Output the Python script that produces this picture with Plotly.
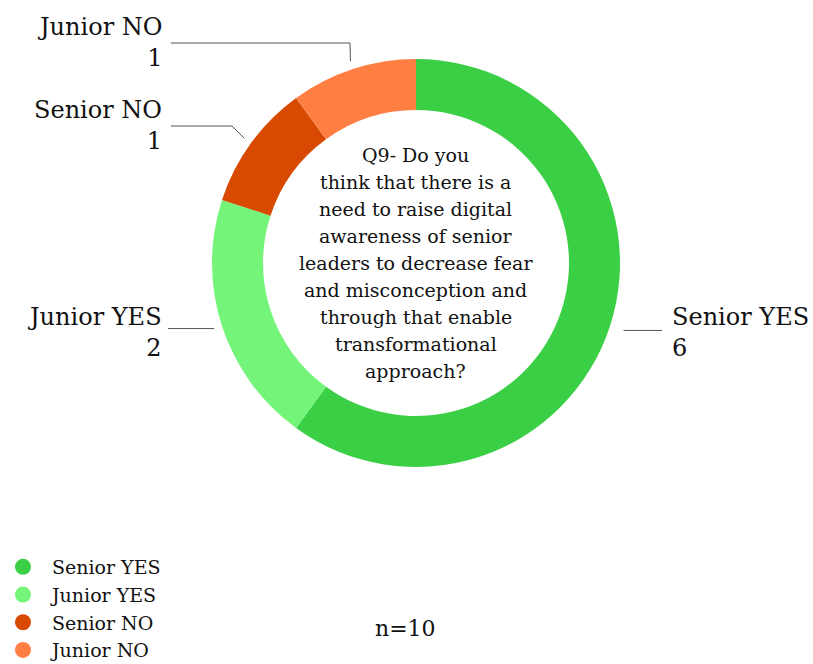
import math
import plotly.graph_objects as go

# Survey answers to Q9, split by seniority
categories = ["Senior YES", "Junior YES", "Senior NO", "Junior NO"]
counts = [6, 2, 1, 1]
colors = ["#3ACF45", "#74F57A", "#D84A02", "#FF7F42"]
question_lines = ["Q9- Do you", "think that there is a", "need to raise digital",
                  "awareness of senior", "leaders to decrease fear", "and misconception and",
                  "through that enable", "transformational", "approach?"]
sample_note = "n=10"

W, H = 813, 664
FONT = "DejaVu Serif"

# donut geometry in pixels
cx, cy, R = 416, 263, 204
hole = 0.75


def px(x):
    return x / W


def py(y):
    return 1 - y / H


fig = go.Figure()
fig.add_trace(go.Pie(
    labels=categories, values=counts, sort=False, direction="clockwise", rotation=0,
    hole=hole, marker=dict(colors=colors, line=dict(width=0)),
    textinfo="none", hoverinfo="label+value", showlegend=False,
    domain=dict(x=[px(cx - R), px(cx + R)], y=[py(cy + R), py(cy - R)]),
))

# legend entries drawn as circle markers
for name, col in zip(categories, colors):
    fig.add_trace(go.Scatter(x=[None], y=[None], mode="markers", name=name,
                             marker=dict(color=col, size=21, symbol="circle")))

# slice mid-angles (clockwise from 12 o'clock)
total = sum(counts)
mids = []
acc = 0
for c in counts:
    mids.append((acc + c / 2) / total * 2 * math.pi)
    acc += c


def ring_point(angle, k):
    return cx + R * k * math.sin(angle), cy - R * k * math.cos(angle)


# label placement: (text x, text y, anchor, leader radius factor, extra path points)
label_layout = {
    "Senior YES": (670, 332, "left", 1.07, [(662, None)]),
    "Junior YES": (164, 332, "right", 1.04, [(168, None)]),
    "Senior NO": (164, 125, "right", 1.04, [(232, 126), (171, 126)]),
    "Junior NO": (164, 42, "right", 1.04, [(350, 43), (171, 43)]),
}

shapes = []
annotations = []
for name, val, ang in zip(categories, counts, mids):
    tx, ty, side, k, pts = label_layout[name]
    start = ring_point(ang, k)
    path_pts = [start] + [(x, start[1] if y is None else y) for x, y in pts]
    d = "M " + " L ".join(f"{px(x):.5f},{py(y):.5f}" for x, y in path_pts)
    shapes.append(dict(type="path", path=d, xref="paper", yref="paper",
                       line=dict(color="#555555", width=1)))
    annotations.append(dict(text=f"{name}<br>{val}", x=px(tx), y=py(ty), xref="paper", yref="paper",
                            xanchor=side, yanchor="middle", align=side, showarrow=False,
                            font=dict(family=FONT, size=24, color="#111111")))

# question text in the hole, one line every 27 px
line_gap = 27
n_lines = len(question_lines)
for i, line in enumerate(question_lines):
    ly = cy + (i - (n_lines - 1) / 2) * line_gap
    annotations.append(dict(text=line, x=px(cx), y=py(ly), xref="paper", yref="paper",
                            xanchor="center", yanchor="middle", showarrow=False,
                            font=dict(family=FONT, size=19, color="#111111")))

annotations.append(dict(text=sample_note, x=px(405), y=py(628), xref="paper", yref="paper",
                        xanchor="center", yanchor="middle", showarrow=False,
                        font=dict(family=FONT, size=22, color="#111111")))

fig.update_layout(
    width=W, height=H, margin=dict(l=0, r=0, t=0, b=0, autoexpand=False),
    paper_bgcolor="white", plot_bgcolor="white",
    xaxis=dict(visible=False), yaxis=dict(visible=False),
    shapes=shapes, annotations=annotations,
    legend=dict(x=-0.0074, y=py(548), xanchor="left", yanchor="top", tracegroupgap=0,
                font=dict(family=FONT, size=19, color="#111111"), itemsizing="trace",
                itemwidth=48, bgcolor="rgba(0,0,0,0)"),
)

fig.write_html("out.html")
